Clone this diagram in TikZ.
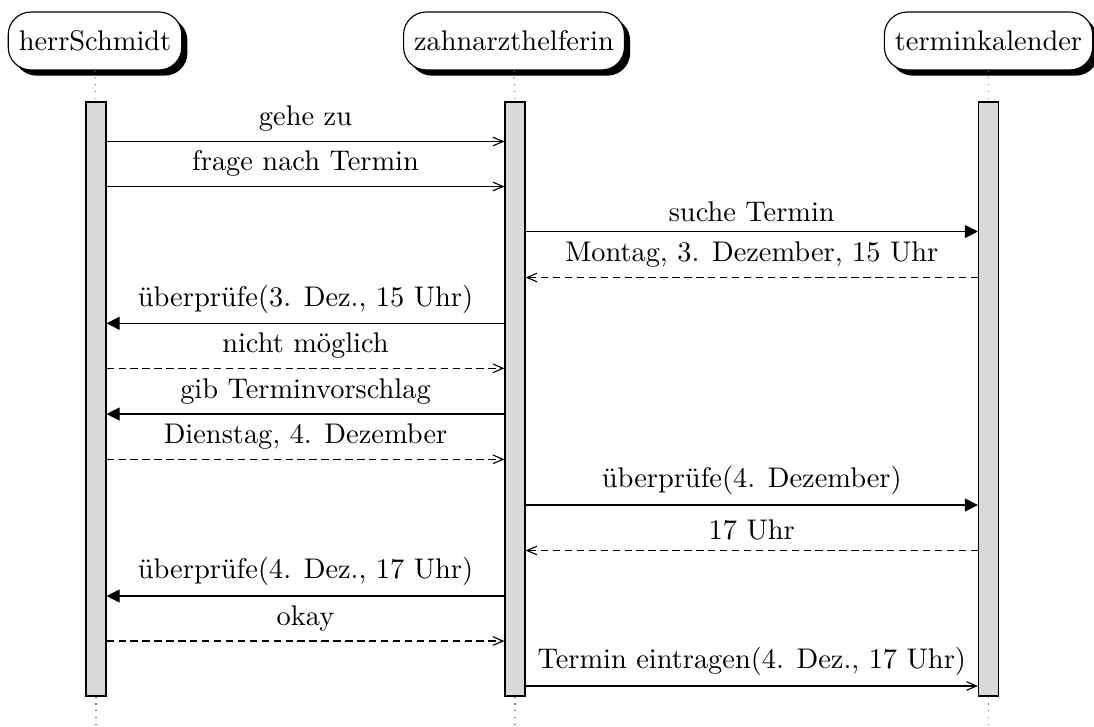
\documentclass[tikz,border=0pt]{standalone}
\usetikzlibrary{shadows,arrows.meta}
\begin{document}
\begin{tikzpicture}[x=0.352pt,y=-0.352pt,
  head/.style={draw, fill=white, rounded corners=8pt, inner xsep=3.7pt, minimum height=20.4pt,
    drop shadow={shadow xshift=2pt,shadow yshift=-2pt,fill=black,opacity=1}},
  bar/.style={draw, fill=gray!30, inner sep=0pt, minimum width=7.04pt, minimum height=209.1pt},
  lifeline/.style={dotted, gray},
  msg/.style={-{Straight Barb[length=3.5pt,width=3pt]}},
  call/.style={-{Triangle[length=4.6pt,width=4.6pt]}},
  ret/.style={dash pattern=on 2.6pt off 1.6pt, -{Straight Barb[length=3.5pt,width=3pt]}},
  lbl/.style={midway, above}]
\useasboundingbox (0,0) rectangle (1094,726);
% headers
\node[head] (hS) at (95,41) {herrSchmidt};
\node[head] (hZ) at (514,41) {zahnarzthelferin};
\node[head] (hT) at (988.5,41) {terminkalender};
% lifeline ends
\coordinate (eS) at (96,726);
\coordinate (eZ) at (515,726);
\coordinate (eT) at (988.5,726);
% bars
\node[bar] (bS) at (96,399) {};
\node[bar] (bZ) at (515,399) {};
\node[bar] (bT) at (988.5,399) {};
% lifelines
\draw[lifeline] (hS.south) -- (bS.north);
\draw[lifeline] (bS.south) -- (eS);
\draw[lifeline] (hZ.south) -- (bZ.north);
\draw[lifeline] (bZ.south) -- (eZ);
\draw[lifeline] (hT.south) -- (bT.north);
\draw[lifeline] (bT.south) -- (eT);
% message rows
\coordinate (y1) at (0,141.5);
\coordinate (y2) at (0,186.5);
\coordinate (y3) at (0,231.5);
\coordinate (y4) at (0,277.5);
\coordinate (y5) at (0,323.3);
\coordinate (y6) at (0,368.3);
\coordinate (y7) at (0,414);
\coordinate (y8) at (0,459.3);
\coordinate (y9) at (0,505);
\coordinate (y10) at (0,550.5);
\coordinate (y11) at (0,596);
\coordinate (y12) at (0,641);
\coordinate (y13) at (0,686);
% messages
\draw[msg] (bS.east |- y1) -- (bZ.west |- y1) node[lbl] {gehe zu};
\draw[msg] (bS.east |- y2) -- (bZ.west |- y2) node[lbl] {frage nach Termin};
\draw[call] (bZ.east |- y3) -- (bT.west |- y3) node[lbl] {suche Termin};
\draw[ret] (bT.west |- y4) -- (bZ.east |- y4) node[lbl] {Montag, 3. Dezember, 15 Uhr};
\draw[call] (bZ.west |- y5) -- (bS.east |- y5) node[lbl] {überprüfe(3. Dez., 15 Uhr)};
\draw[ret] (bS.east |- y6) -- (bZ.west |- y6) node[lbl] {nicht möglich};
\draw[call] (bZ.west |- y7) -- (bS.east |- y7) node[lbl] {gib Terminvorschlag};
\draw[ret] (bS.east |- y8) -- (bZ.west |- y8) node[lbl] {Dienstag, 4. Dezember};
\draw[call] (bZ.east |- y9) -- (bT.west |- y9) node[lbl] {überprüfe(4. Dezember)};
\draw[ret] (bT.west |- y10) -- (bZ.east |- y10) node[lbl] {17 Uhr};
\draw[call] (bZ.west |- y11) -- (bS.east |- y11) node[lbl] {überprüfe(4. Dez., 17 Uhr)};
\draw[ret] (bS.east |- y12) -- (bZ.west |- y12) node[lbl] {okay};
\draw[msg] (bZ.east |- y13) -- (bT.west |- y13) node[lbl] {Termin eintragen(4. Dez., 17 Uhr)};
\end{tikzpicture}
\end{document}
